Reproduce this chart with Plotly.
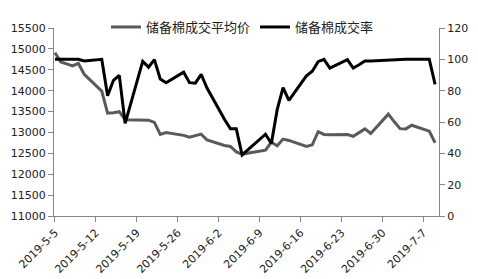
import plotly.graph_objects as go

dates = ["2019-05-05", "2019-05-06", "2019-05-07", "2019-05-08", "2019-05-09", "2019-05-10",
         "2019-05-13", "2019-05-14", "2019-05-15", "2019-05-16", "2019-05-17",
         "2019-05-20", "2019-05-21", "2019-05-22", "2019-05-23", "2019-05-24",
         "2019-05-27", "2019-05-28", "2019-05-29", "2019-05-30", "2019-05-31",
         "2019-06-03", "2019-06-04", "2019-06-05", "2019-06-06",
         "2019-06-10", "2019-06-11", "2019-06-12", "2019-06-13", "2019-06-14",
         "2019-06-17", "2019-06-18", "2019-06-19", "2019-06-20", "2019-06-21",
         "2019-06-24", "2019-06-25", "2019-06-26", "2019-06-27", "2019-06-28",
         "2019-07-01", "2019-07-02", "2019-07-03", "2019-07-04", "2019-07-05",
         "2019-07-08", "2019-07-09"]

avg_price = [14909, 14688, 14640, 14591, 14651, 14393,
             13989, 13460, 13470, 13497, 13305,
             13305, 13294, 13239, 12952, 12996,
             12930, 12886, 12930, 12959, 12820,
             12688, 12666, 12533, 12482,
             12577, 12765, 12681, 12842, 12809,
             12666, 12703, 13018, 12952, 12946,
             12952, 12908, 12996, 13085, 12974,
             13437, 13260, 13091, 13085, 13173,
             13030, 12754]

deal_rate = [100, 100, 100, 100, 100, 99,
             100, 76.7, 86.6, 89.8, 59.1,
             98.7, 95, 99.8, 87.5, 85.1,
             91.8, 85.1, 84.8, 90.4, 81.7,
             61.6, 55.7, 55.7, 39.0,
             52.2, 46.3, 67.9, 82, 73.8,
             89.5, 92.4, 98.5, 100, 94.4,
             99.8, 94.4, 96.5, 98.9, 99,
             99.5, 100, 100, 100, 100,
             100, 84]

name_price = "储备棉成交平均价"
name_rate = "储备棉成交率"

tick_font = dict(family="DejaVu Sans", size=11, color="#222222")
axis_color = "#868686"

fig = go.Figure()
fig.add_trace(go.Scatter(x=dates, y=avg_price, name=name_price, mode="lines",
                         line=dict(color="#5a5a5a", width=3)))
fig.add_trace(go.Scatter(x=dates, y=deal_rate, name=name_rate, mode="lines",
                         line=dict(color="#000000", width=3), yaxis="y2"))

fig.update_layout(
    width=478, height=279,
    margin=dict(l=54, r=39, t=12, b=63),
    paper_bgcolor="white", plot_bgcolor="white",
    showlegend=True,
    legend=dict(orientation="h", x=0.135, y=1.085, xanchor="left", yanchor="top",
                font=dict(family="Noto Sans CJK SC", size=13, color="#222222"),
                bgcolor="rgba(0,0,0,0)", itemwidth=30, tracegroupgap=0),
    xaxis=dict(type="date", range=["2019-05-04 20:00", "2019-07-09 16:00"],
               tick0="2019-05-05", dtick=7 * 24 * 3600 * 1000, tickformat="%Y-%-m-%-d",
               tickangle=-45, tickfont=tick_font, showgrid=False, zeroline=False,
               showline=True, linecolor=axis_color, linewidth=1, automargin=False,
               ticks="outside", ticklen=5, tickcolor=axis_color),
    yaxis=dict(range=[11000, 15500], dtick=500, tickfont=tick_font, showgrid=False,
               zeroline=False, showline=True, linecolor=axis_color, linewidth=1,
               ticks="outside", ticklen=5, tickcolor=axis_color, tickformat="d",
               automargin=False),
    yaxis2=dict(range=[0, 120], dtick=20, overlaying="y", side="right", tickfont=tick_font,
                showgrid=False, zeroline=False, showline=True, linecolor=axis_color,
                linewidth=1, ticks="outside", ticklen=5, tickcolor=axis_color,
                automargin=False),
)

fig.write_html("out.html")
